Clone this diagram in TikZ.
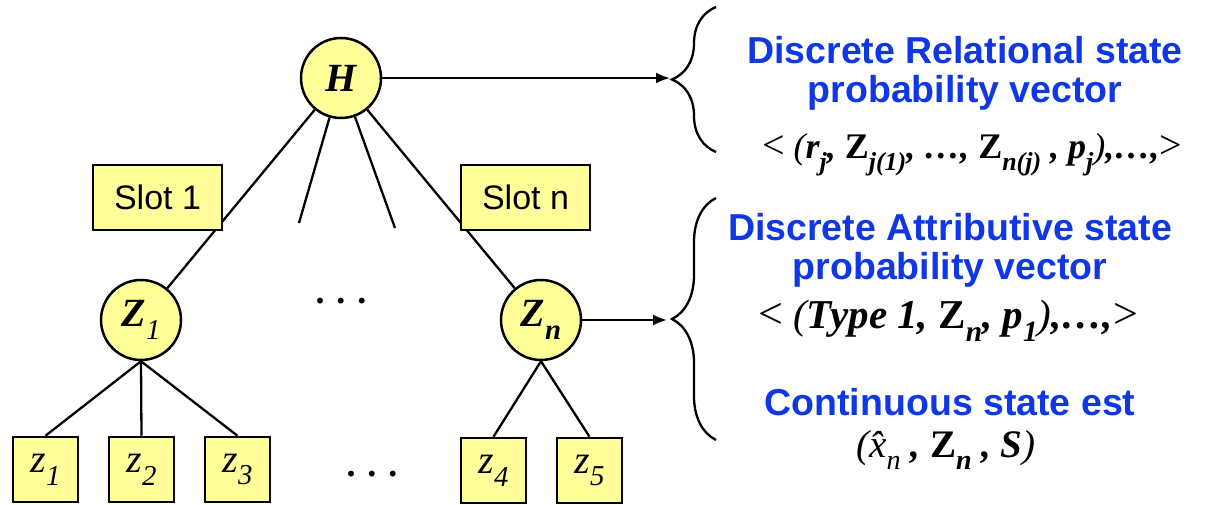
\documentclass[tikz,border=0pt]{standalone}
\usepackage{fontspec}
\usepackage{graphicx}
\setmainfont{Liberation Serif}
\setsansfont{Liberation Sans}
\usetikzlibrary{decorations.pathreplacing,arrows.meta}
\definecolor{paleyellow}{RGB}{255,255,153}
\definecolor{slideblue}{RGB}{15,55,230}
\newcommand{\sbs}[1]{\raisebox{-0.32em}{\scalebox{0.72}{#1}}}

\begin{document}
\begin{tikzpicture}[x=1pt,y=1pt,>={Latex[length=14pt,width=11pt]},
	statenode/.style={circle,draw,line width=2.5pt,fill=paleyellow,minimum size=80pt,inner sep=0pt,font=\fontsize{40}{40}\selectfont\bfseries\itshape},
	slotnode/.style={rectangle,draw,line width=2.5pt,fill=paleyellow,minimum width=129pt,minimum height=65pt,font=\sffamily\fontsize{34}{34}\selectfont},
	obsnode/.style={rectangle,draw,line width=2.5pt,fill=paleyellow,minimum size=65pt,inner sep=0pt,font=\fontsize{40}{40}\selectfont\itshape},
	bluetext/.style={align=center,text=slideblue,font=\sffamily\bfseries\fontsize{37.5}{39}\selectfont},
	vectext/.style={font=\fontsize{36}{36}\selectfont\bfseries\itshape},
	dotsnode/.style={font=\fontsize{36}{36}\selectfont\bfseries},
	link/.style={line width=2.3pt},
	bracket/.style={line width=2.3pt,decorate,decoration={brace,amplitude=44pt}}
	]
	\useasboundingbox (0,0) rectangle (1205,505);
	% tree
	\node[statenode] (H) at (341,427) {H};
	\node[statenode] (Z1) at (141,185) {Z\sbs{\mdseries 1}};
	\node[statenode] (Zn) at (541,185) {Z\sbs{n}};
	\coordinate (stubl) at (299,282);
	\coordinate (stubr) at (395,277);
	\node[obsnode] (z1) at (45.5,35.5) {z\sbs{1}};
	\node[obsnode] (z2) at (141.5,35.5) {z\sbs{2}};
	\node[obsnode] (z3) at (237.5,35.5) {z\sbs{3}};
	\node[obsnode] (z4) at (493.5,34.5) {z\sbs{4}};
	\node[obsnode] (z5) at (589.5,34.5) {z\sbs{5}};
	\draw[link] (H) -- (Z1);
	\draw[link] (H) -- (stubl);
	\draw[link] (H) -- (stubr);
	\draw[link] (H) -- (Zn);
	\draw[link] (Z1.south) -- (z1.north);
	\draw[link] (Z1.south) -- (z2.north);
	\draw[link] (Z1.south) -- (z3.north);
	\draw[link] (Zn.south) -- (z4.north);
	\draw[link] (Zn.south) -- (z5.north);
	\node[slotnode] (slot1) at (157.5,307.5) {Slot 1};
	\node[slotnode] (slotn) at (525.5,307.5) {Slot n};
	\node[dotsnode] (dotsmid) at (341,204) {. . .};
	\node[dotsnode] (dotslow) at (372,31) {. . .};
	% braces and arrows
	\draw[bracket] (716,353) -- (716,498);
	\draw[bracket] (716,65) -- (716,307);
	\coordinate (tipa) at (670,427);
	\coordinate (tipb) at (667,185);
	\draw[link,->] (H.east) -- (tipa);
	\draw[link,->] (Zn.east) -- (tipb);
	% state descriptions
	\node[bluetext] (rel) at (965,432) {Discrete Relational state\\probability vector};
	\node[vectext] (relvec) at (972,350) {{\mdseries\upshape\fontsize{40}{40}\selectfont<} {\mdseries(}r\sbs{j}, {\upshape Z}\sbs{j(1)}, \dots, {\upshape Z}\sbs{n(j)} , p\sbs{j}{\mdseries)},\dots,{\mdseries\upshape\fontsize{40}{40}\selectfont>}};
	\node[bluetext] (attr) at (950,255) {Discrete Attributive state\\probability vector};
	\node[vectext,font=\fontsize{41}{41}\selectfont\bfseries\itshape] (attrvec) at (948,184) {{\mdseries\upshape\fontsize{44}{44}\selectfont<} {\mdseries(}Type 1, {\upshape Z}\sbs{n}, p\sbs{1}{\mdseries)},\dots,{\mdseries\upshape\fontsize{44}{44}\selectfont>}};
	\node[bluetext] (cont) at (950,103) {Continuous state est};
	\node[vectext,font=\fontsize{39}{39}\selectfont\bfseries\itshape] (contvec) at (946,55) {{\mdseries(}{\mdseries\^{x}\sbs{n}} , {\upshape Z}\sbs{n} , S{\mdseries)}};
\end{tikzpicture}
\end{document}
